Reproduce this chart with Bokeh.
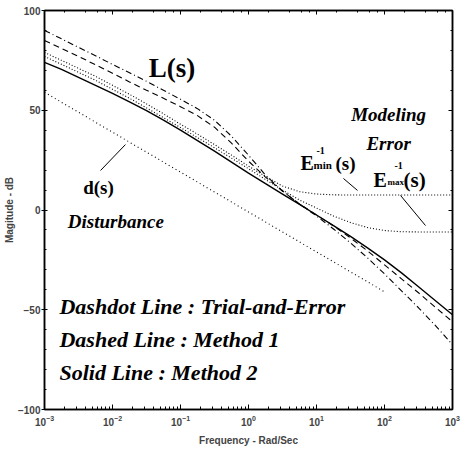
from bokeh.plotting import figure
from bokeh.models import LogAxis, LinearAxis, FixedTicker, LogTicker
from bokeh.core.properties import value
from bokeh.embed import file_html
from bokeh.resources import INLINE

# frequency grid (rad/sec), quarter-decade steps 1e-3 .. 1e3
freq = [10 ** (k / 4) for k in range(-12, 13)]

# magnitudes in dB
method2_solid = [74, 70.5, 66.5, 62.5, 58.5, 54.2, 49.8, 45, 40, 34.8, 29.5, 24, 18.5,
                 13.2, 8, 2.8, -2.5, -7.8, -13.2, -19, -25, -31.5, -38.5, -45.5, -52.5]
method1_dashed = [85, 81, 77, 72.8, 68.5, 64.2, 60, 56, 51.8, 47.3, 41.5, 33.5, 24.5,
                  16.5, 9.5, 3, -2.5, -8, -14, -20.5, -27.5, -34.5, -41.5, -48.8, -56]
trial_dashdot = [90, 85.8, 81.5, 77.3, 73, 68.8, 64.5, 60, 55.5, 50.8, 45, 37, 27.5,
                 17.5, 9.5, 3, -3, -9.5, -16.5, -24, -32, -40.5, -49, -58, -67.5]
emin_inv = [79, 75, 71, 67, 62.5, 58, 53.2, 48.2, 43, 38, 32.8, 27.5, 22,
            16.8, 12, 9.2, 8, 7.6, 7.5, 7.5, 7.5, 7.5, 7.5, 7.5, 7.5]
emax_inv = [77, 73, 69, 65, 60.5, 56, 51.2, 46.3, 41.3, 36.3, 31.2, 26, 20.7,
            15.3, 10, 5, 1, -3, -6.3, -8.8, -10.3, -10.9, -11, -11, -11]
disturbance = [59, 54, 49, 44, 39, 34, 29, 24, 19, 14, 9, 4, -1,
               -6, -11, -16, -21, -26, -31, -36, -41]

y_major = [-100, -50, 0, 50, 100]
y_minor = list(range(-100, 101, 10))

p = figure(width=461, height=452, x_axis_type="log", x_range=(1e-3, 1e3), y_range=(-100, 100),
           output_backend="svg", toolbar_location=None,
           min_border_left=44, min_border_right=9, min_border_top=10, min_border_bottom=43)
p.xgrid.visible = False
p.ygrid.visible = False
p.outline_line_color = "black"
p.outline_line_width = 1.5
p.background_fill_color = "white"
p.border_fill_color = "white"

# curves
p.line(freq, trial_dashdot, line_color="black", line_width=1.1, line_dash="6 3 1 3")
p.line(freq, method1_dashed, line_color="black", line_width=1.1, line_dash="6 4")
p.line(freq, method2_solid, line_color="black", line_width=1.4)
p.line(freq, emin_inv, line_color="black", line_width=1.1, line_dash="1 2")
p.line(freq, emax_inv, line_color="black", line_width=1.1, line_dash="1 2")
p.line(freq[:len(disturbance)], disturbance, line_color="black", line_width=1.1, line_dash="1 3")

# axes styling
ax = p.xaxis[0]
ax.axis_label = "Frequency - Rad/Sec"
ax.axis_label_text_font = "Liberation Sans"
ax.axis_label_text_font_style = "bold"
ax.axis_label_text_font_size = "10px"
ax.axis_label_standoff = 6
ax.major_label_text_font = "Liberation Sans"
ax.major_label_text_font_style = "bold"
ax.major_label_text_font_size = "10px"
ax.major_tick_in = 5
ax.major_tick_out = 0
ax.minor_tick_in = 3
ax.minor_tick_out = 0
ax.axis_line_width = 1.5

ay = p.yaxis[0]
ay.ticker = FixedTicker(ticks=y_major, minor_ticks=y_minor)
ay.axis_label = "Magitude - dB"
ay.axis_label_text_font = "Liberation Sans"
ay.axis_label_text_font_style = "bold"
ay.axis_label_text_font_size = "10px"
ay.axis_label_standoff = 0
ay.major_label_text_font = "Liberation Sans"
ay.major_label_text_font_style = "bold"
ay.major_label_text_font_size = "10px"
ay.major_label_standoff = 1
ay.major_tick_in = 3
ay.major_tick_out = 3
ay.minor_tick_in = 2
ay.minor_tick_out = 0
ay.axis_line_width = 1.5

top = LogAxis(ticker=LogTicker())
top.major_label_text_font_size = "1px"
top.major_label_text_color = None
top.major_label_standoff = 0
top.major_tick_in = 4
top.major_tick_out = 0
top.minor_tick_in = 2
top.minor_tick_out = 0
top.axis_line_width = 1.5
p.add_layout(top, "above")

right = LinearAxis(ticker=FixedTicker(ticks=y_major, minor_ticks=y_minor))
right.major_label_text_font_size = "1px"
right.major_label_text_color = None
right.major_label_standoff = 0
right.major_tick_in = 4
right.major_tick_out = 0
right.minor_tick_in = 2
right.minor_tick_out = 0
right.axis_line_width = 1.5
p.add_layout(right, "right")

serif = value("Liberation Serif")

def label(x, y, t, size, style, align="left", xo=0, yo=0):
    p.text(x=[x], y=[y], text=[t], text_font=serif, text_font_style=style,
           text_font_size=size, text_align=align, text_baseline="alphabetic",
           x_offset=xo, y_offset=yo, text_color="black")

label(0.034, 66.4, "L(s)", "27px", "bold", yo=-10)
label(115, 44.9, "Modeling", "19px", "bold italic", align="center", yo=-6)
label(115, 31.3, "Error", "19px", "bold italic", align="center", yo=-4)
label(0.0037, 8.3, "d(s)", "19px", "bold", yo=-6)
label(0.0022, -7.2, "Disturbance", "19px", "bold italic", yo=-3)
label(0.00166, -51.9, "Dashdot Line : Trial-and-Error", "22px", "bold italic", yo=-7)
label(0.00166, -68.9, "Dashed Line : Method 1", "22px", "bold italic", yo=-8)
label(0.00166, -85.4, "Solid Line : Method 2", "22px", "bold italic", yo=-8)

# E_min^-1(s)
label(5.82, 19.8, "E", "20px", "bold", yo=-7)
label(5.82, 19.8, "min", "11px", "bold", xo=13, yo=-5)
label(5.82, 19.8, "-1", "10px", "bold", xo=16, yo=-20)
label(5.82, 19.8, "(s)", "19px", "bold", xo=35, yo=-7)
# E_max^-1(s)
label(68.9, 11.3, "E", "20px", "bold", yo=-7)
label(68.9, 11.3, "max", "9px", "bold", xo=14, yo=-5)
label(68.9, 11.3, "-1", "10px", "bold", xo=21, yo=-22)
label(68.9, 11.3, "(s)", "21px", "bold", xo=30, yo=-7)

# pointer lines
p.segment(x0=[24.9, 172, 0.00667], y0=[15.8, 7.3, 19.8],
          x1=[40.1, 401, 0.0155], y1=[9.8, -7.8, 32.8], line_color="black", line_width=1)

open("out.html", "w").write(file_html(p, INLINE))
